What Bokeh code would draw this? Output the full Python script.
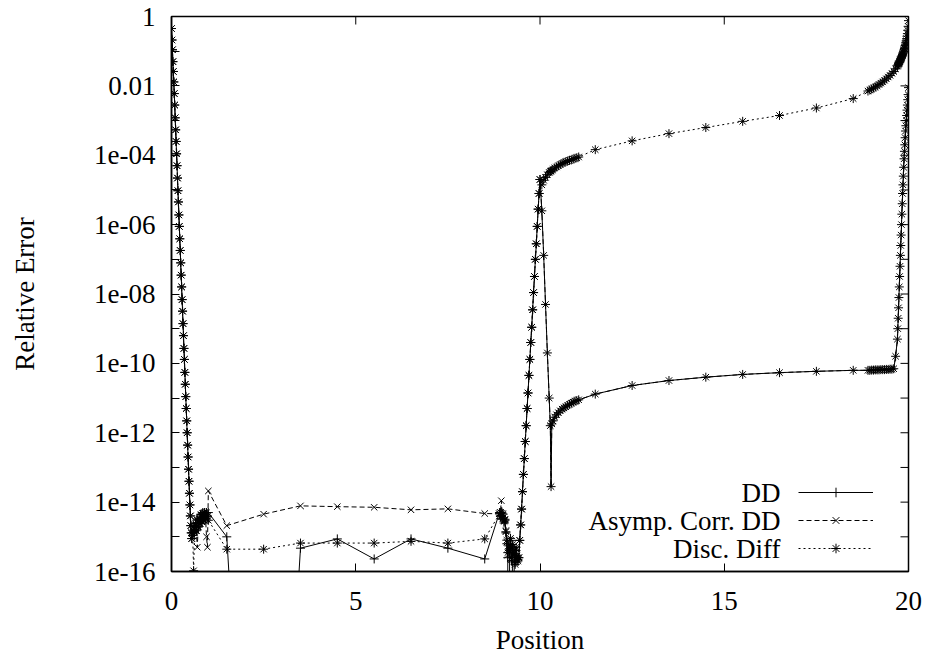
import math
from bokeh.plotting import figure
from bokeh.models import (FixedTicker, Legend, LegendItem, BasicTickFormatter, Label)
from bokeh.embed import file_html
from bokeh.resources import INLINE

# ---------------- data ----------------
series_names = ["DD", "Asymp. Corr. DD", "Disc. Diff"]
x_title = "Position"
y_title = "Relative Error"

# dense sampling next to x = 0 (all three methods coincide)
x_edge = [0.0, 0.0125, 0.025, 0.0375, 0.05, 0.0625, 0.075, 0.0875, 0.1, 0.1125,
          0.125, 0.1375, 0.15, 0.1625, 0.175, 0.1875, 0.2, 0.2125, 0.225, 0.2375,
          0.25, 0.2625, 0.275, 0.2875, 0.3, 0.3125, 0.325, 0.3375, 0.35, 0.3625,
          0.375, 0.3875, 0.4, 0.4125, 0.425, 0.4375, 0.45, 0.4625, 0.475, 0.4875,
          0.5, 0.5125, 0.525, 0.5375, 0.55]
y_edge = [4.5e-1, 2.1e-1, 1.1e-1, 5.0e-2, 2.6e-2, 1.3e-2, 6.0e-3, 2.8e-3, 1.2e-3, 5.4e-4,
          2.5e-4, 1.1e-4, 5.0e-5, 2.2e-5, 9.5e-6, 4.5e-6, 1.9e-6, 8.9e-7, 3.9e-7, 1.8e-7,
          7.9e-8, 3.5e-8, 1.6e-8, 6.9e-9, 3.2e-9, 1.4e-9, 6.3e-10, 2.7e-10, 1.3e-10, 5.5e-11,
          2.5e-11, 1.1e-11, 5.0e-12, 2.2e-12, 1.0e-12, 4.4e-13, 2.0e-13, 8.9e-14, 4.0e-14, 1.8e-14,
          8.3e-15, 4.0e-15, 2.1e-15, 1.3e-15, 8.9e-16]

# cluster between 0.55 and 1
x_blob_left = [0.575, 0.6, 0.625, 0.65, 0.675, 0.7, 0.725, 0.75, 0.775, 0.8,
               0.825, 0.85, 0.875, 0.9, 0.925, 0.95, 0.975, 1.0]
dd_blob_left = [1.3e-15, 2.0e-15, 1.4e-15, 2.5e-15, 1.6e-15, 3.2e-15, 2.0e-15, 3.5e-15, 2.5e-15,
                4.5e-15, 2.8e-15, 5.0e-15, 3.2e-15, 5.0e-15, 3.5e-15, 5.0e-15, 4.0e-15, 5.0e-15]
asy_blob_left = [1.3e-15, 1.8e-15, 1.4e-15, 2.2e-15, 1.5e-15, 5.0e-16, 2.0e-15, 3.2e-15, 2.4e-15,
                 4.2e-15, 2.8e-15, 4.6e-15, 3.0e-15, 4.8e-15, 3.4e-15, 1.0e-15, 5.0e-16, 2.1e-14]
disc_blob_left = [1.1e-15, 1.05e-16, 1.3e-15, 2.4e-15, 1.5e-15, 3.0e-15, 1.9e-15, 3.4e-15, 2.4e-15,
                  4.4e-15, 2.7e-15, 4.8e-15, 3.1e-15, 5.0e-15, 3.3e-15, 4.9e-15, 3.8e-15, 3.0e-15]

# coarse points, left half
x_coarse_left = [1.5, 2.5, 3.5, 4.5, 5.5, 6.5, 7.5, 8.5]
dd_coarse_left = [1.0e-15, 1.0e-33, 4.7e-16, 8.7e-16, 2.3e-16, 8.7e-16, 4.7e-16, 2.3e-16]
asy_coarse_left = [2.1e-15, 4.5e-15, 7.8e-15, 7.4e-15, 7.1e-15, 6.0e-15, 6.4e-15, 4.7e-15]
disc_coarse_left = [4.4e-16, 4.4e-16, 6.6e-16, 6.6e-16, 6.6e-16, 7.4e-16, 6.6e-16, 8.7e-16]

# cluster around x = 9
x_blob_mid = [8.9, 8.925, 8.95, 8.975, 9.0, 9.025, 9.05, 9.075, 9.1, 9.125, 9.15,
              9.175, 9.2, 9.225, 9.25, 9.275, 9.3, 9.325, 9.35, 9.375, 9.4]
dd_blob_mid = [5.0e-15, 4.0e-15, 5.0e-15, 3.2e-15, 4.5e-15, 2.5e-15, 3.2e-15, 1.3e-15, 6.3e-16,
               2.5e-16, 1.0e-33, 4.0e-16, 7.9e-16, 2.0e-16, 5.0e-16, 1.0e-33, 3.2e-16, 1.6e-16,
               4.0e-16, 2.5e-16, 2.0e-16]
asy_blob_mid = [4.6e-15, 5.0e-15, 1.1e-14, 4.0e-15, 4.5e-15, 3.0e-15, 3.2e-15, 1.5e-15, 7.0e-16,
                3.0e-16, 5.0e-16, 4.0e-16, 8.0e-16, 2.2e-16, 5.0e-16, 3.0e-16, 3.5e-16, 1.6e-16,
                4.5e-16, 2.5e-16, 2.0e-16]
disc_blob_mid = [4.6e-15, 5.0e-15, 4.0e-15, 4.8e-15, 3.5e-15, 2.8e-15, 3.0e-15, 1.4e-15, 8.0e-16,
                 3.5e-16, 5.5e-16, 4.5e-16, 9.0e-16, 2.5e-16, 6.0e-16, 3.2e-16, 4.0e-16, 1.8e-16,
                 5.0e-16, 2.8e-16, 2.2e-16]

# steep rise towards x = 10 (all methods coincide)
x_rise = [9.425, 9.45, 9.475, 9.5, 9.525, 9.55, 9.575, 9.6, 9.625, 9.65, 9.675, 9.7,
          9.725, 9.75, 9.775, 9.8, 9.825, 9.85, 9.875, 9.9, 9.925, 9.95, 9.975, 10.0]
y_rise = [2.5e-16, 7.9e-16, 2.2e-15, 6.3e-15, 2.0e-14, 6.3e-14, 1.8e-13, 5.6e-13, 1.6e-12,
          5.0e-12, 1.4e-11, 4.5e-11, 1.3e-10, 4.0e-10, 1.1e-9, 3.5e-9, 1.1e-8, 3.2e-8,
          1.0e-7, 2.8e-7, 8.9e-7, 2.8e-6, 7.9e-6, 2.0e-5]

# dense sampling just right of x = 10
x_after = [10.05, 10.1, 10.15, 10.2, 10.25, 10.28, 10.3, 10.32, 10.35, 10.4, 10.45, 10.5,
           10.55, 10.6, 10.65, 10.7, 10.75, 10.8, 10.85, 10.9, 10.95, 11.0, 11.05]
lower_after = [2.5e-6, 1.3e-7, 5.0e-9, 2.0e-10, 1.0e-11, 1.6e-12, 2.8e-14, 1.8e-12, 2.2e-12,
               2.8e-12, 3.3e-12, 3.8e-12, 4.3e-12, 4.8e-12, 5.2e-12, 5.6e-12, 6.2e-12, 6.6e-12,
               7.1e-12, 7.6e-12, 8.1e-12, 8.5e-12, 8.9e-12]
disc_after = [1.4e-5, 1.9e-5, 2.3e-5, 2.75e-5, 3.2e-5, 3.4e-5, 3.5e-5, 3.7e-5, 3.9e-5, 4.3e-5,
              4.6e-5, 5.0e-5, 5.4e-5, 5.8e-5, 6.2e-5, 6.5e-5, 6.8e-5, 7.1e-5, 7.4e-5, 7.8e-5,
              8.1e-5, 8.5e-5, 8.9e-5]

# coarse points, right half
x_coarse_right = [11.5, 12.5, 13.5, 14.5, 15.5, 16.5, 17.5, 18.5]
lower_coarse_right = [1.3e-11, 2.3e-11, 3.2e-11, 4.0e-11, 4.8e-11, 5.4e-11, 5.9e-11, 6.3e-11]
disc_coarse_right = [1.45e-4, 2.6e-4, 4.2e-4, 6.3e-4, 9.5e-4, 1.4e-3, 2.3e-3, 4.3e-3]

# dense sampling next to x = 20
x_end = [18.9, 18.95, 19.0, 19.05, 19.1, 19.15, 19.2, 19.25, 19.3, 19.35, 19.4, 19.45,
         19.5, 19.55, 19.6, 19.65, 19.7, 19.71, 19.72, 19.73, 19.74, 19.75, 19.76, 19.77,
         19.78, 19.79, 19.8, 19.81, 19.82, 19.83, 19.84, 19.85, 19.86, 19.87, 19.88, 19.89,
         19.9, 19.91, 19.92, 19.93, 19.94, 19.95, 19.96, 19.97, 19.98, 19.99, 20.0]
lower_end = [6.3e-11, 6.3e-11, 6.4e-11, 6.4e-11, 6.5e-11, 6.5e-11, 6.5e-11, 6.6e-11, 6.6e-11,
             6.6e-11, 6.7e-11, 6.7e-11, 6.8e-11, 6.8e-11, 7.0e-11, 1.6e-10, 5.0e-10, 1.0e-9,
             2.0e-9, 4.0e-9, 7.9e-9, 1.6e-8, 3.2e-8, 6.3e-8, 1.3e-7, 2.5e-7, 5.0e-7, 1.0e-6,
             2.0e-6, 4.0e-6, 7.9e-6, 1.4e-5, 2.5e-5, 4.5e-5, 7.9e-5, 1.3e-4, 2.0e-4, 3.2e-4,
             5.0e-4, 7.1e-4, 1.0e-3, 1.4e-3, 2.0e-3, 2.8e-3, 4.0e-3, 5.6e-3, 8.9e-3]
disc_end = [7.1e-3, 7.6e-3, 8.1e-3, 8.7e-3, 9.3e-3, 1.0e-2, 1.1e-2, 1.2e-2, 1.3e-2, 1.45e-2,
            1.6e-2, 1.8e-2, 2.0e-2, 2.3e-2, 2.6e-2, 3.1e-2, 3.7e-2, 3.9e-2, 4.1e-2, 4.3e-2,
            4.5e-2, 4.7e-2, 5.0e-2, 5.3e-2, 5.6e-2, 5.9e-2, 6.2e-2, 6.6e-2, 7.0e-2, 7.5e-2,
            8.0e-2, 8.6e-2, 9.3e-2, 1.0e-1, 1.1e-1, 1.2e-1, 1.3e-1, 1.45e-1, 1.6e-1, 1.8e-1,
            2.0e-1, 2.3e-1, 2.7e-1, 3.2e-1, 4.0e-1, 5.2e-1, 7.6e-1]

# axes
x_tick_values = [0, 5, 10, 15, 20]
y_tick_values = [1, 1e-2, 1e-4, 1e-6, 1e-8, 1e-10, 1e-12, 1e-14, 1e-16]
y_tick_labels = ["1", "0.01", "1e-04", "1e-06", "1e-08", "1e-10", "1e-12", "1e-14", "1e-16"]
y_minor_values = [1e-1, 1e-3, 1e-5, 1e-7, 1e-9, 1e-11, 1e-13, 1e-15]
x_range = (0, 20)
y_range = (1e-16, 1)

# ---------------- assemble series ----------------
x_all = (x_edge + x_blob_left + x_coarse_left + x_blob_mid + x_rise + x_after
         + x_coarse_right + x_end)
dd_y = (y_edge + dd_blob_left + dd_coarse_left + dd_blob_mid + y_rise + lower_after
        + lower_coarse_right + lower_end)
asy_y = (y_edge + asy_blob_left + asy_coarse_left + asy_blob_mid + y_rise + lower_after
         + lower_coarse_right + lower_end)
disc_y = (y_edge + disc_blob_left + disc_coarse_left + disc_blob_mid + y_rise + disc_after
          + disc_coarse_right + disc_end)

FONT = "Liberation Serif"
FS = "27px"
FRAME_W, FRAME_H = 737, 555

p = figure(frame_width=FRAME_W, frame_height=FRAME_H, x_range=x_range, y_range=y_range,
           y_axis_type="log", output_backend="svg", toolbar_location=None,
           min_border_left=171, min_border_right=20, min_border_top=16,
           min_border_bottom=85, background_fill_color="white",
           border_fill_color="white")
p.xgrid.visible = False
p.ygrid.visible = False
p.outline_line_color = "black"
p.outline_line_width = 1.5
p.outline_line_alpha = 1.0

styles = [
    dict(marker="cross", dash="solid"),
    dict(marker="x", dash="5 3"),
    dict(marker="asterisk", dash="2 3"),
]
ys = [dd_y, asy_y, disc_y]
items = []
for name, yv, st in zip(series_names, ys, styles):
    ln = p.line(x_all, yv, line_color="black", line_width=1, line_dash=st["dash"])
    sc = p.scatter(x_all, yv, marker=st["marker"], size=9, line_color="black",
                   line_width=1, fill_color=None)
    items.append(LegendItem(label=" ", renderers=[ln, sc]))

# mirrored ticks on the top and right borders (gnuplot style)
p.ray(x=x_tick_values, y=[y_range[1]] * len(x_tick_values), length=8,
      length_units="screen", angle=-math.pi / 2, line_color="black", line_width=1)
right_ticks = y_tick_values + y_minor_values
p.ray(x=[x_range[1]] * len(right_ticks), y=right_ticks, length=8,
      length_units="screen", angle=math.pi, line_color="black", line_width=1)

# legend: line/marker samples on the right, titles right-aligned to their left
legend = Legend(items=items, location=(627, 11), glyph_width=75, glyph_height=24,
                spacing=4, padding=0, margin=0, label_standoff=0, label_width=0,
                label_height=0, label_text_font_size="20px", border_line_alpha=0,
                background_fill_alpha=0)
p.add_layout(legend)
for name, ypos in zip(series_names, [79, 51, 23]):
    p.add_layout(Label(x=609, y=ypos, x_units="screen", y_units="screen", text=name,
                       text_align="right", text_baseline="middle", text_font=FONT,
                       text_font_size=FS, text_color="black"))

def style_axis(ax):
    ax.axis_line_color = "black"
    ax.axis_line_width = 1.5
    ax.major_tick_line_color = "black"
    ax.minor_tick_line_color = "black"
    ax.major_tick_in = 8
    ax.major_tick_out = 0
    ax.minor_tick_in = 8
    ax.minor_tick_out = 0
    ax.major_label_text_font = FONT
    ax.major_label_text_font_size = FS
    ax.major_label_text_color = "black"
    ax.axis_label_text_font = FONT
    ax.axis_label_text_font_size = FS
    ax.axis_label_text_font_style = "normal"
    ax.axis_label_text_color = "black"

xa = p.xaxis[0]
style_axis(xa)
xa.ticker = FixedTicker(ticks=x_tick_values, minor_ticks=[])
xa.formatter = BasicTickFormatter()
xa.axis_label = x_title
xa.major_label_standoff = 20
xa.axis_label_standoff = 12

ya = p.yaxis[0]
style_axis(ya)
ya.ticker = FixedTicker(ticks=y_tick_values, minor_ticks=y_minor_values)
ya.formatter = BasicTickFormatter()
ya.major_label_overrides = dict(zip(y_tick_values, y_tick_labels))
ya.axis_label = y_title
ya.major_label_standoff = 16
ya.axis_label_standoff = 51

open("out.html", "w").write(file_html(p, INLINE))
